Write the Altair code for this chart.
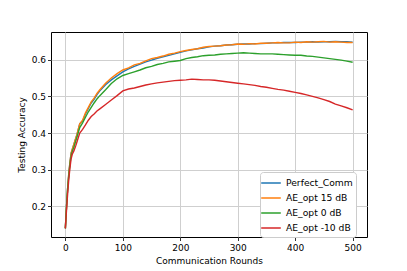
import altair as alt
import pandas as pd

rounds = [0, 2, 4, 6, 8, 10, 12, 15, 18, 20, 25, 30, 35, 40, 45, 50, 55, 60,
          70, 80, 90, 100, 110, 120, 130, 140, 150, 160, 170, 180, 190, 200,
          210, 220, 230, 240, 250, 260, 270, 280, 290, 300, 310, 320, 330, 340,
          350, 360, 370, 380, 390, 400, 410, 420, 430, 440, 450, 460, 470, 480,
          490, 500]

perfect = [0.14, 0.20, 0.25, 0.29, 0.32, 0.345, 0.355, 0.37, 0.385, 0.395,
           0.425, 0.433, 0.452, 0.467, 0.482, 0.492, 0.505, 0.515,
           0.532, 0.545, 0.556, 0.567, 0.575, 0.582, 0.588, 0.594, 0.599, 0.604,
           0.608, 0.612, 0.616, 0.620, 0.624, 0.627, 0.630, 0.632, 0.635, 0.637,
           0.638, 0.640, 0.641, 0.642, 0.643, 0.643, 0.644, 0.644, 0.645, 0.646,
           0.646, 0.647, 0.647, 0.647, 0.648, 0.648, 0.649, 0.648, 0.649, 0.649,
           0.650, 0.649, 0.649, 0.648]

ae15 = [0.14, 0.20, 0.25, 0.29, 0.32, 0.345, 0.355, 0.37, 0.385, 0.395,
        0.425, 0.435, 0.455, 0.470, 0.485, 0.495, 0.508, 0.518,
        0.536, 0.550, 0.562, 0.572, 0.578, 0.586, 0.590, 0.597, 0.603, 0.606,
        0.610, 0.615, 0.618, 0.622, 0.625, 0.628, 0.630, 0.634, 0.636, 0.637,
        0.638, 0.640, 0.641, 0.643, 0.642, 0.644, 0.643, 0.645, 0.645, 0.646,
        0.647, 0.646, 0.646, 0.648, 0.647, 0.649, 0.648, 0.649, 0.650, 0.648,
        0.649, 0.648, 0.647, 0.647]

ae0 = [0.14, 0.20, 0.25, 0.285, 0.315, 0.338, 0.35, 0.362, 0.378, 0.388,
       0.415, 0.428, 0.443, 0.458, 0.470, 0.482, 0.493, 0.502,
       0.518, 0.535, 0.548, 0.557, 0.562, 0.567, 0.572, 0.578, 0.582, 0.587,
       0.590, 0.594, 0.596, 0.598, 0.603, 0.606, 0.608, 0.611, 0.612, 0.613,
       0.615, 0.616, 0.617, 0.618, 0.619, 0.618, 0.617, 0.616, 0.616, 0.616,
       0.615, 0.614, 0.613, 0.612, 0.612, 0.610, 0.609, 0.607, 0.605, 0.603,
       0.601, 0.599, 0.596, 0.593]

aem10 = [0.14, 0.19, 0.235, 0.275, 0.305, 0.33, 0.342, 0.352, 0.365, 0.375,
         0.400, 0.410, 0.422, 0.435, 0.445, 0.452, 0.460, 0.466,
         0.478, 0.490, 0.502, 0.515, 0.520, 0.523, 0.527, 0.531, 0.534, 0.537,
         0.539, 0.541, 0.543, 0.544, 0.545, 0.547, 0.546, 0.545, 0.545, 0.544,
         0.542, 0.540, 0.538, 0.536, 0.534, 0.532, 0.530, 0.527, 0.525, 0.522,
         0.519, 0.517, 0.514, 0.511, 0.508, 0.504, 0.500, 0.496, 0.491, 0.486,
         0.479, 0.474, 0.469, 0.463]

names = ["Perfect_Comm", "AE_opt 15 dB", "AE_opt 0 dB", "AE_opt -10 dB"]
colors = ["#1f77b4", "#ff7f0e", "#2ca02c", "#d62728"]
series = [perfect, ae15, ae0, aem10]

rows = []
for i, (n, s) in enumerate(zip(names, series)):
    for r, v in zip(rounds, s):
        rows.append({"round": r, "acc": v, "series": n, "ord": i})
df = pd.DataFrame(rows)

chart = alt.Chart(df).mark_line(strokeWidth=1.4, clip=True).encode(
    x=alt.X("round:Q", scale=alt.Scale(domain=[-25, 525], nice=False, zero=False),
            axis=alt.Axis(values=[0, 100, 200, 300, 400, 500], title="Communication Rounds")),
    y=alt.Y("acc:Q", scale=alt.Scale(domain=[0.1165, 0.6756], nice=False, zero=False),
            axis=alt.Axis(values=[0.2, 0.3, 0.4, 0.5, 0.6], format=".1f", title="Testing Accuracy")),
    color=alt.Color("series:N", scale=alt.Scale(domain=names, range=colors),
                    legend=alt.Legend(title=None, orient="none", legendX=209, legendY=140)),
    detail="ord:N",
).properties(
    width=316, height=205,
    autosize=alt.AutoSizeParams(type="none"),
    padding={"left": 43, "top": 24, "right": 32, "bottom": 34},
).configure_view(
    stroke="black", strokeWidth=1
).configure_axis(
    labelFont="DejaVu Sans", titleFont="DejaVu Sans",
    labelFontSize=9, titleFontSize=9, titleFontWeight="normal",
    labelColor="#000", titleColor="#000",
    domain=False, tickColor="#000", tickSize=3.5, tickWidth=0.8,
    grid=True, gridColor="#cfcfcf", gridWidth=1,
).configure_axisX(labelPadding=3, titlePadding=4).configure_axisY(labelPadding=2, titlePadding=5).configure_legend(
    labelFont="DejaVu Sans", labelFontSize=9.2, labelColor="#000",
    symbolType="M-1.4,0H1.4", symbolSize=196, symbolStrokeWidth=1.5,
    symbolFillColor="transparent",
    strokeColor="#cccccc", fillColor="white", cornerRadius=3,
    padding=3, rowPadding=1, labelOffset=7,
)

chart.save("out.html", embed_options={"renderer": "svg", "actions": False})
